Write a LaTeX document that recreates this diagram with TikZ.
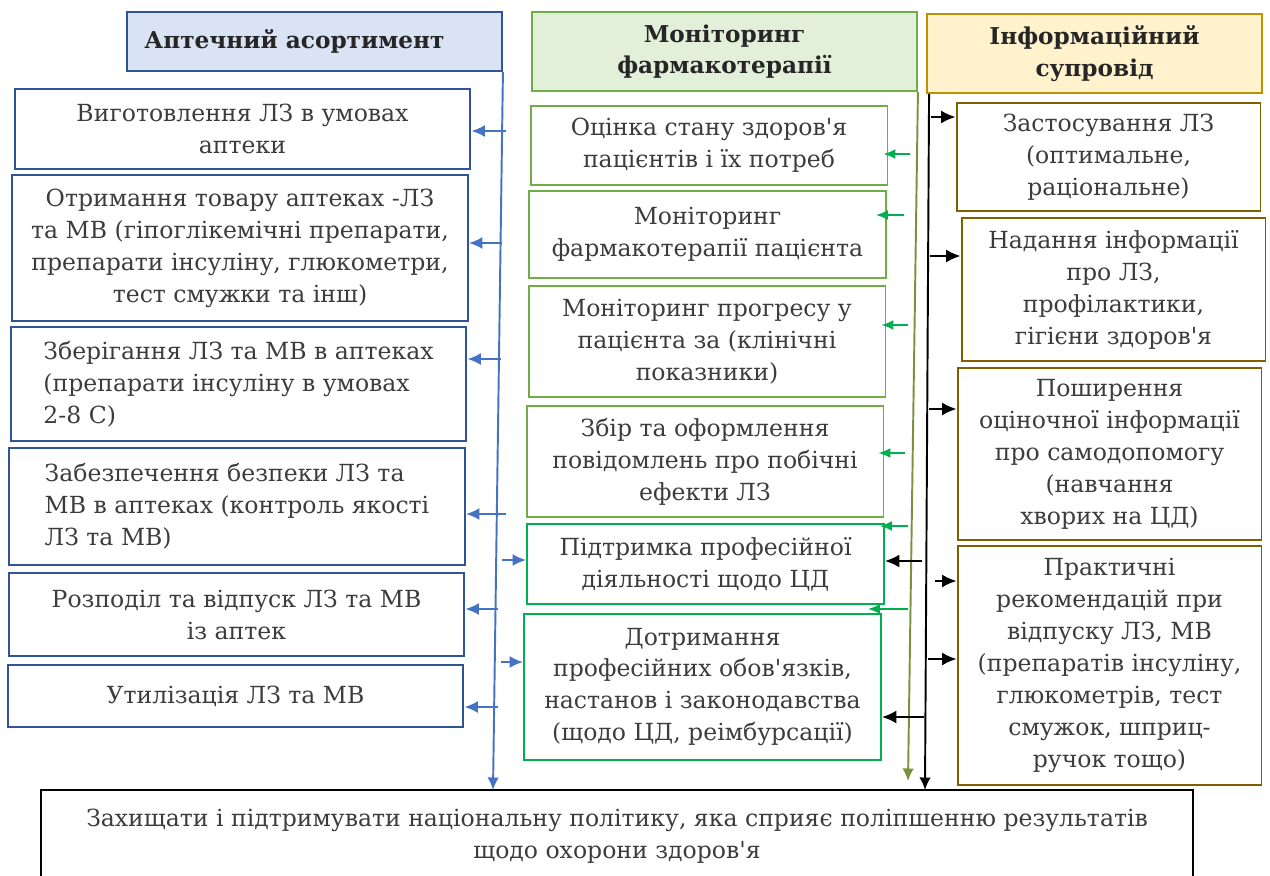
\documentclass[tikz,border=0pt]{standalone}
\usepackage{fontspec}
\setmainfont{DejaVu Serif}[Ligatures=TeXOff]
\usepackage{xcolor}
\usetikzlibrary{positioning,arrows.meta,calc}

\begin{document}
\begin{tikzpicture}[
    x=0.02cm, y=-0.02cm,
    head/.style 2 args={
        rectangle,
        draw=#1,
        fill=#2,
        line width=1.1pt,
        align=center,
        inner sep=0pt,
        text=headtext,
        font=\fontsize{13.2}{18}\selectfont\bfseries
    },
    leftbox/.style={
        rectangle,
        draw=boxblue,
        line width=1.1pt,
        align=center,
        inner sep=0pt,
        minimum width=9.12cm,
        text=bodytext,
        font=\fontsize{13.4}{18.2}\selectfont
    },
    midbox/.style={
        rectangle,
        draw=#1,
        line width=1.1pt,
        align=center,
        inner sep=0pt,
        minimum width=7.14cm,
        text=bodytext,
        font=\fontsize{13.4}{18.2}\selectfont
    },
    rightbox/.style={
        rectangle,
        draw=boxbrown,
        line width=1.1pt,
        align=center,
        inner sep=0pt,
        minimum width=6.08cm,
        text=bodytext,
        font=\fontsize{13.4}{18.2}\selectfont
    },
    spine/.style={
        -{Latex[length=2.5mm,width=2.3mm]},
        line width=1.1pt,
        draw=#1
    },
    bluearrow/.style={
        -{Latex[length=2.7mm,width=2.4mm]},
        line width=1.1pt,
        draw=arrowblue
    },
    greenarrow/.style={
        -{Latex[length=2.4mm,width=2mm]},
        line width=1.1pt,
        draw=brightgreen
    },
    blackarrow/.style={
        -{Latex[length=2.9mm,width=2.6mm]},
        line width=1.1pt,
        draw=black
    }
]

\definecolor{boxblue}{RGB}{47,85,151}
\definecolor{arrowblue}{RGB}{68,114,196}
\definecolor{headblue}{RGB}{218,227,243}
\definecolor{lightgreen}{RGB}{112,173,71}
\definecolor{headgreen}{RGB}{226,240,217}
\definecolor{brightgreen}{RGB}{0,176,80}
\definecolor{olivegreen}{RGB}{119,147,60}
\definecolor{boxbrown}{RGB}{127,96,0}
\definecolor{headgold}{RGB}{191,144,0}
\definecolor{headyellow}{RGB}{255,242,204}
\definecolor{headtext}{RGB}{38,38,38}
\definecolor{bodytext}{RGB}{60,60,60}

\useasboundingbox (0,0) rectangle (1270,875);

% Column headers
\node[head={boxblue}{headblue}, minimum width=7.5cm, minimum height=1.18cm] (hpharm) at (314.5,41.5) {\hspace*{-0.8cm}Аптечний асортимент};
\node[head={lightgreen}{headgreen}, minimum width=7.7cm, minimum height=1.58cm] (hmonit) at (724.5,51.5) {Моніторинг\\фармакотерапії};
\node[head={headgold}{headyellow}, minimum width=6.7cm, minimum height=1.58cm] (hinfo) at (1094.5,53.5) {Інформаційний\\супровід};

% Pharmacy assortment
\node[leftbox, minimum height=1.6cm] (manuf) at (242.5,129) {Виготовлення ЛЗ в умовах\\аптеки};
\node[leftbox, minimum height=2.92cm] (supply) at (240,248) {Отримання товару аптеках -ЛЗ\\та МВ (гіпоглікемічні препарати,\\препарати інсуліну, глюкометри,\\тест смужки та інш)};
\node[leftbox, align=left, minimum height=2.28cm] (storage) at (238.5,384) {Зберігання ЛЗ та МВ в аптеках\\(препарати інсуліну в умовах\\2-8 С)};
\node[leftbox, align=left, minimum height=2.34cm] (safety) at (237,506.5) {Забезпечення безпеки ЛЗ та\\МВ в аптеках (контроль якості\\ЛЗ та МВ)};
\node[leftbox, minimum height=1.66cm] (dispense) at (236.5,614.5) {Розподіл та відпуск ЛЗ та МВ\\із аптек};
\node[leftbox, minimum height=1.24cm] (disposal) at (235.5,696) {Утилізація ЛЗ та МВ};

% Pharmacotherapy monitoring
\node[midbox=lightgreen, minimum height=1.58cm] (assess) at (709,145.5) {Оцінка стану здоров'я\\пацієнтів і їх потреб};
\node[midbox=lightgreen, minimum height=1.74cm] (therapy) at (707.5,234.5) {Моніторинг\\фармакотерапії пацієнта};
\node[midbox=lightgreen, minimum height=2.22cm] (progress) at (707,341.5) {Моніторинг прогресу у\\пацієнта за (клінічні\\показники)};
\node[midbox=lightgreen, minimum height=2.22cm] (adverse) at (705,461.5) {Збір та оформлення\\повідомлень про побічні\\ефекти ЛЗ};
\node[midbox=brightgreen, minimum height=1.6cm] (support) at (705.5,564) {Підтримка професійної\\діяльності щодо ЦД};
\node[midbox=brightgreen, minimum height=2.92cm] (duties) at (702.5,687) {Дотримання\\професійних обов'язків,\\настанов і законодавства\\(щодо ЦД, реімбурсації)};

% Information support
\node[rightbox, minimum height=2.16cm] (usage) at (1108.5,157) {Застосування ЛЗ\\(оптимальне,\\раціональне)};
\node[rightbox, minimum height=2.86cm] (inform) at (1113.5,289.5) {Надання інформації\\про ЛЗ,\\профілактики,\\гігієни здоров'я};
\node[rightbox, minimum height=3.44cm] (spread) at (1109.5,454) {Поширення\\оціночної інформації\\про самодопомогу\\(навчання\\хворих на ЦД)};
\node[rightbox, minimum height=4.78cm] (advice) at (1109.5,665.5) {Практичні\\рекомендацій при\\відпуску ЛЗ, МВ\\(препаратів інсуліну,\\глюкометрів, тест\\смужок, шприц-\\ручок тощо)};

% Common goal
\node[rectangle, draw=black, line width=1.2pt, align=center, inner sep=0pt,
      minimum width=23.04cm, minimum height=1.84cm, text=bodytext,
      font=\fontsize{13.4}{18.2}\selectfont] (goal) at (617,836)
{Захищати і підтримувати національну політику, яка сприяє поліпшенню результатів\\щодо охорони здоров'я};

% Spine coordinates
\coordinate (bluefoot) at (493,790);
\coordinate (olivefoot) at (908,781);
\coordinate (blackfoot) at (925,790);
\coordinate (sb1) at (506,131);
\coordinate (sb2) at (502,243);
\coordinate (sb3) at (501,359);
\coordinate (sb4) at (506,514);
\coordinate (sb5) at (498,609);
\coordinate (sb6) at (498,707);
\coordinate (sb7) at (502,560);
\coordinate (sb8) at (501,662);
\coordinate (sg1) at (910,154);
\coordinate (sg2) at (904,215);
\coordinate (sg3) at (908,325);
\coordinate (sg4) at (905,453);
\coordinate (sg5) at (908,526);
\coordinate (sg6) at (908,609);
\coordinate (sk1) at (931,117);
\coordinate (sk2) at (930,256);
\coordinate (sk3) at (929,409);
\coordinate (sk4) at (935,581);
\coordinate (sk5) at (928,659);
\coordinate (sk6) at (922,561);
\coordinate (sk7) at (924,717);

% Spines
\draw[spine=arrowblue] (hpharm.south east) -- (bluefoot);
\draw[spine=olivegreen] (hmonit.south east) -- (olivefoot);
\draw[spine=black] ([xshift=0.06cm]hinfo.south west) -- (blackfoot);

% Blue branches
\draw[bluearrow] (sb1) -- (sb1 -| manuf.east);
\draw[bluearrow] (sb2) -- (sb2 -| supply.east);
\draw[bluearrow] (sb3) -- (sb3 -| storage.east);
\draw[bluearrow] (sb4) -- (sb4 -| safety.east);
\draw[bluearrow] (sb5) -- (sb5 -| dispense.east);
\draw[bluearrow] (sb6) -- (sb6 -| disposal.east);
\draw[bluearrow] (sb7) -- (sb7 -| support.west);
\draw[bluearrow] (sb8) -- (sb8 -| duties.west);

% Green branches
\draw[greenarrow] (sg1) -- ([xshift=-0.1cm]sg1 -| assess.east);
\draw[greenarrow] (sg2) -- ([xshift=-0.22cm]sg2 -| therapy.east);
\draw[greenarrow] (sg3) -- ([xshift=-0.1cm]sg3 -| progress.east);
\draw[greenarrow] (sg4) -- ([xshift=-0.12cm]sg4 -| adverse.east);
\draw[greenarrow] (sg5) -- ([xshift=-0.1cm]sg5 -| support.east);
\draw[greenarrow] (sg6) -- ([xshift=-0.28cm]sg6 -| duties.east);

% Black branches
\draw[blackarrow] (sk1) -- (sk1 -| usage.west);
\draw[blackarrow] (sk2) -- (sk2 -| inform.west);
\draw[blackarrow] (sk3) -- (sk3 -| spread.west);
\draw[blackarrow] (sk4) -- (sk4 -| advice.west);
\draw[blackarrow] (sk5) -- (sk5 -| advice.west);
\draw[blackarrow] (sk6) -- (sk6 -| support.east);
\draw[blackarrow] (sk7) -- (sk7 -| duties.east);

\end{tikzpicture}
\end{document}
